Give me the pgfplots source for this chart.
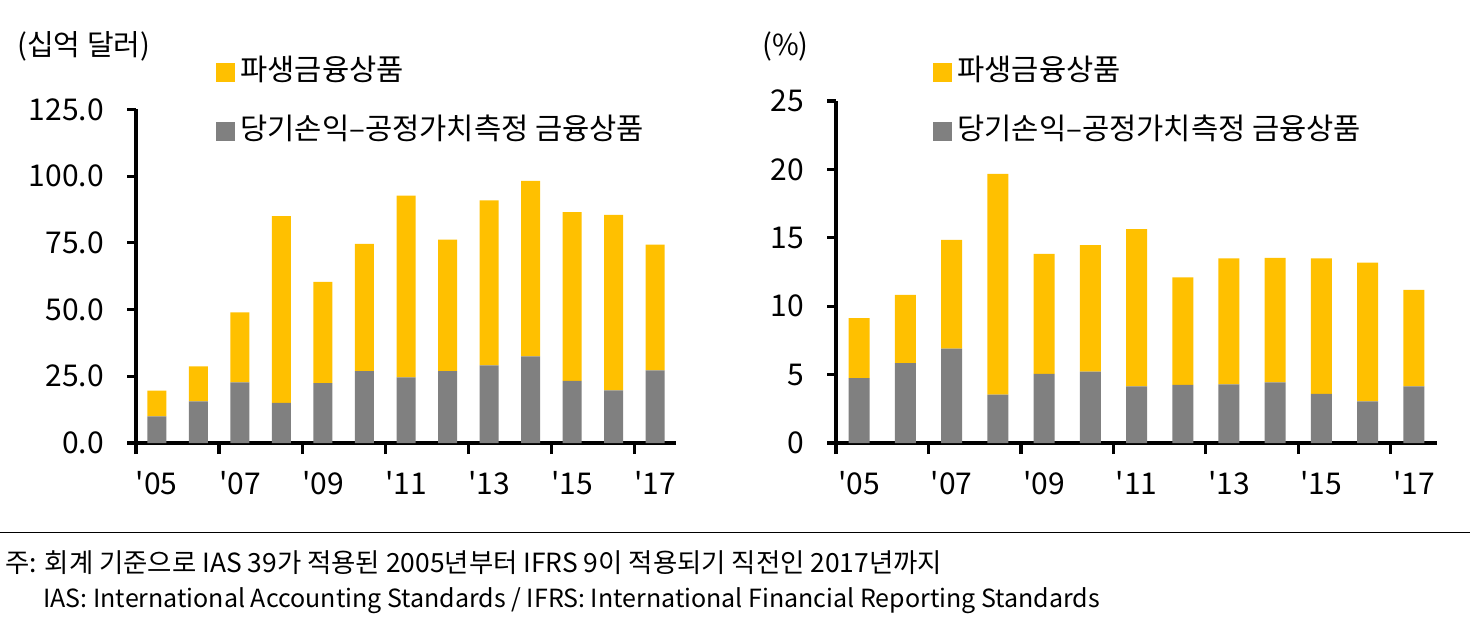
\documentclass[border=0pt]{standalone}
\usepackage{fontspec}
\setmainfont{Noto Sans CJK KR}
\usepackage{pgfplots}
\usepackage{pgfplotstable}
\pgfplotsset{compat=1.18}
\definecolor{barY}{HTML}{FFC000}
\definecolor{barG}{HTML}{808080}

\pgfplotstableread{
x g y
0 10.00 9.60
1 15.60 13.15
2 22.75 26.25
3 15.00 70.00
4 22.40 38.00
5 26.90 47.70
6 24.60 68.15
7 26.90 49.35
8 29.10 61.80
9 32.50 65.75
10 23.25 63.25
11 19.75 65.75
12 27.25 47.15
}\leftdata

\pgfplotstableread{
x g y
0 4.75 4.38
1 5.84 4.99
2 6.89 7.96
3 3.53 16.14
4 5.06 8.77
5 5.21 9.25
6 4.14 11.49
7 4.24 7.86
8 4.28 9.21
9 4.43 9.10
10 3.60 9.89
11 3.04 10.15
12 4.14 7.06
}\rightdata

\pgfplotsset{
  mybars/.style={
    scale only axis,
    anchor=south west,
    ybar stacked,
    axis lines=left,
    axis line style={-, line width=1.6pt, black},
    tick style={line width=1.6pt, black},
    tick align=outside,
    tick pos=left,
    major tick length=4.5pt,
    minor tick length=5.5pt,
    xmin=-0.5, xmax=12.5, ymin=0,
    enlargelimits=false,
    xtick={0,2,...,12},
    xticklabels={\textquotesingle05,\textquotesingle07,\textquotesingle09,\textquotesingle11,\textquotesingle13,\textquotesingle15,\textquotesingle17},
    minor xtick={-0.5,1.5,...,11.5},
    major x tick style={draw opacity=0},
    /pgf/number format/assume math mode=true,
    ticklabel style={font=\fontsize{15}{18}\selectfont},
    xticklabel style={yshift=-6pt},
    yticklabel style={xshift=-8pt},
    reverse legend,
    legend image code/.code={\fill[##1] (0pt,-4.75pt) rectangle (9.5pt,4.75pt);},
    legend style={draw=none, fill=none, inner sep=0pt, anchor=north west,
      font=\fontsize{14.8}{17}\selectfont, row sep=16pt,
      cells={anchor=west},
      nodes={inner sep=0pt, text height=11pt, text depth=2.5pt},
      /tikz/every odd column/.append style={column sep=2.5pt}},
  }
}

\begin{document}
\begin{tikzpicture}[x=1pt,y=1pt]
\useasboundingbox (0,0) rectangle (735,313.5);

\begin{axis}[mybars,
  at={(68pt,92pt)}, width=270pt, height=166.75pt,
  bar width=9.5pt,
  ymax=125, ytick={0,25,...,125},
  yticklabel style={/pgf/number format/.cd, fixed, fixed zerofill, precision=1},
  legend style={at={(0,1)}, xshift=40pt, yshift=25.5pt},
]
\addplot[fill=barG, draw=none] table[x=x, y=g]{\leftdata};
\addlegendentry{당기손익–공정가치측정 금융상품}
\addplot[fill=barY, draw=none] table[x=x, y=y]{\leftdata};
\addlegendentry{파생금융상품}
\end{axis}

\begin{axis}[mybars,
  at={(418pt,92pt)}, width=300.5pt, height=171pt,
  bar width=10.5pt,
  ymax=25, ytick={0,5,...,25},
  legend style={at={(0,1)}, xshift=48.5pt, yshift=21.25pt},
]
\addplot[fill=barG, draw=none] table[x=x, y=g]{\rightdata};
\addlegendentry{당기손익–공정가치측정 금융상품}
\addplot[fill=barY, draw=none] table[x=x, y=y]{\rightdata};
\addlegendentry{파생금융상품}
\end{axis}

\node[anchor=base west, inner sep=0pt, font=\fontsize{14.5}{17}\selectfont] at (8.5,285.5) {(십억 달러)};
\node[anchor=base west, inner sep=0pt, font=\fontsize{14.5}{17}\selectfont] at (381,285.5) {(\%)};

\draw[line width=0.6pt] (0,47.15) -- (735,47.15);
\node[anchor=base west, inner sep=0pt, font=\fontsize{13.2}{15}\selectfont] at (2.5,27.5) {주: 회계 기준으로 IAS 39가 적용된 2005년부터 IFRS 9이 적용되기 직전인 2017년까지};
\node[anchor=base west, inner sep=0pt, font=\fontsize{12.5}{15}\selectfont] at (21.5,9.8) {IAS: International Accounting Standards / IFRS: International Financial Reporting Standards};
\end{tikzpicture}
\end{document}
